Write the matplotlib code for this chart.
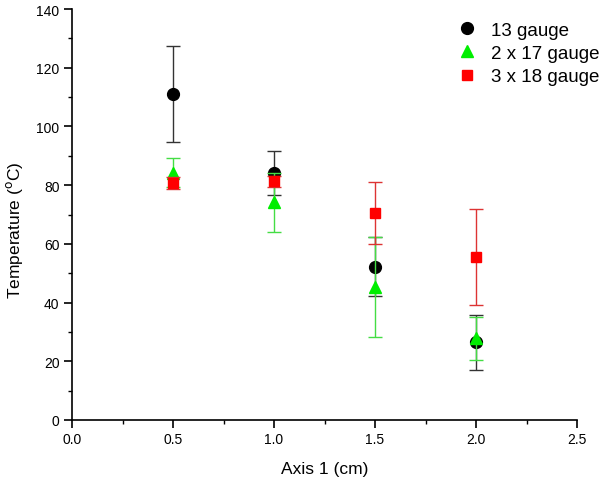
import matplotlib
matplotlib.use("Agg")
import matplotlib.pyplot as plt
from matplotlib.ticker import MultipleLocator
from matplotlib.lines import Line2D

plt.rcParams['font.family'] = ['Liberation Sans', 'DejaVu Sans']

x = [0.5, 1.0, 1.5, 2.0]
g13 = [111, 84, 52.2, 26.5]
g13_err = [16.3, 7.5, 10.1, 9.3]
g17 = [84.3, 74.1, 45.3, 27.8]
g17_err = [4.8, 10.0, 17.0, 7.3]
g18 = [80.7, 81.3, 70.6, 55.5]
g18_err = [2.0, 1.8, 10.5, 16.3]
labels = ['13 gauge', '2 x 17 gauge', '3 x 18 gauge']

fig = plt.figure(figsize=(6.0, 4.81), dpi=100)
ax = fig.add_axes([72/600, 60/481, 505/600, 411/481])

ax.errorbar(x, g13, yerr=g13_err, fmt='o', color='black', ecolor='#333333',
            elinewidth=1.0, capsize=5, capthick=1.0, markersize=8.5, zorder=3)
ax.errorbar(x, g17, yerr=g17_err, fmt='^', color='#00ee00', ecolor='#44dd44',
            elinewidth=1.0, capsize=5, capthick=1.0, markersize=9, zorder=4)
ax.errorbar(x, g18, yerr=g18_err, fmt='s', color='#ff0000', ecolor='#dd3333',
            elinewidth=1.0, capsize=5, capthick=1.0, markersize=7.5, zorder=5)

ax.set_xlim(0, 2.5)
ax.set_ylim(0, 140)
ax.xaxis.set_major_locator(MultipleLocator(0.5))
ax.xaxis.set_minor_locator(MultipleLocator(0.25))
ax.yaxis.set_major_locator(MultipleLocator(20))
ax.yaxis.set_minor_locator(MultipleLocator(10))
ax.xaxis.set_major_formatter(matplotlib.ticker.FormatStrFormatter('%.1f'))

for s in ['top', 'right']:
    ax.spines[s].set_visible(False)
for s in ['left', 'bottom']:
    ax.spines[s].set_linewidth(1.2)
ax.tick_params(which='major', direction='out', length=6, width=1.2, labelsize=10, pad=3)
ax.tick_params(which='minor', direction='out', length=3, width=1.0)

ax.set_xlabel('Axis 1 (cm)', fontsize=12.5)
ax.set_ylabel('Temperature ($^{\\rm o}$C)', fontsize=12.5)
ax.xaxis.set_label_coords(0.5, -0.119)
ax.xaxis.label.set_va('center')
ax.yaxis.set_label_coords(-0.114, 0.465)
ax.yaxis.label.set_va('center')

handles = [
    Line2D([], [], ls='none', marker='o', color='black', markersize=8.5),
    Line2D([], [], ls='none', marker='^', color='#00ee00', markersize=9),
    Line2D([], [], ls='none', marker='s', color='#ff0000', markersize=7.5),
]
ax.legend(handles, labels, loc='upper right', frameon=False, fontsize=13.5, handletextpad=0.6,
          labelspacing=0.32, bbox_to_anchor=(1.077, 1.01), handlelength=1.3)

fig.savefig('out.png', dpi=100)
